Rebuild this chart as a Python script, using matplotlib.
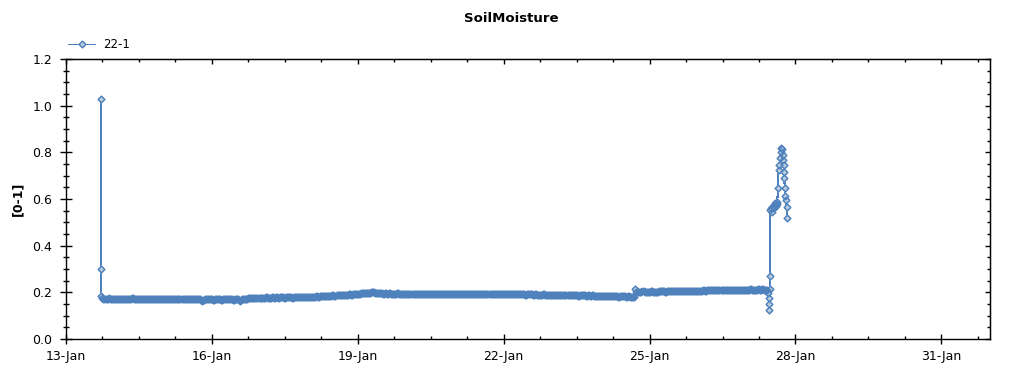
import matplotlib
matplotlib.use("Agg")
import matplotlib.pyplot as plt
import matplotlib.dates as mdates
from matplotlib.ticker import FixedLocator, MultipleLocator, FormatStrFormatter, NullFormatter
from matplotlib.legend_handler import HandlerTuple
import pandas as pd

plt.rcParams['font.family'] = ['DejaVu Sans']

# ---------------- data ----------------
series_name = "22-1"
title = "SoilMoisture"
y_label = "[0-1]"

# initial readings (Jan 13, 17:30)
start_times = ["2014-01-13 17:30", "2014-01-13 17:30", "2014-01-13 17:30"]
start_values = [1.030, 0.300, 0.186]

# half-hourly readings, Jan 13 18:00 -> Jan 27 10:00
jan13 = [0.174, 0.173, 0.173, 0.172, 0.172, 0.173, 0.174, 0.173, 0.172, 0.172, 0.173, 0.172]
jan14 = [0.173, 0.172, 0.172, 0.171, 0.171, 0.172, 0.172, 0.173, 0.173, 0.172, 0.172, 0.171,
         0.171, 0.172, 0.172, 0.173, 0.173, 0.174, 0.174, 0.172, 0.172, 0.171, 0.171, 0.172,
         0.172, 0.173, 0.173, 0.172, 0.172, 0.171, 0.171, 0.172, 0.172, 0.173, 0.173, 0.172,
         0.172, 0.171, 0.171, 0.172, 0.172, 0.173, 0.173, 0.172, 0.172, 0.171, 0.171, 0.172]
jan15 = [0.172, 0.171, 0.171, 0.172, 0.172, 0.173, 0.173, 0.172, 0.172, 0.171, 0.171, 0.170,
         0.170, 0.171, 0.171, 0.172, 0.172, 0.173, 0.173, 0.172, 0.172, 0.171, 0.171, 0.172,
         0.172, 0.171, 0.171, 0.170, 0.170, 0.171, 0.171, 0.172, 0.172, 0.171, 0.171, 0.170,
         0.170, 0.168, 0.164, 0.168, 0.169, 0.170, 0.170, 0.171, 0.171, 0.170, 0.170, 0.170]
jan16 = [0.170, 0.169, 0.169, 0.170, 0.170, 0.171, 0.171, 0.170, 0.170, 0.169, 0.169, 0.170,
         0.170, 0.171, 0.171, 0.172, 0.172, 0.171, 0.171, 0.170, 0.170, 0.169, 0.169, 0.170,
         0.170, 0.171, 0.171, 0.168, 0.164, 0.168, 0.170, 0.171, 0.172, 0.172, 0.173, 0.173,
         0.174, 0.174, 0.175, 0.175, 0.174, 0.174, 0.176, 0.176, 0.175, 0.175, 0.176, 0.176]
jan17 = [0.176, 0.177, 0.177, 0.175, 0.175, 0.178, 0.178, 0.176, 0.176, 0.177, 0.177, 0.179,
         0.179, 0.176, 0.176, 0.178, 0.178, 0.177, 0.177, 0.179, 0.179, 0.178, 0.178, 0.176,
         0.176, 0.179, 0.179, 0.178, 0.178, 0.180, 0.180, 0.177, 0.177, 0.179, 0.179, 0.178,
         0.178, 0.180, 0.180, 0.179, 0.179, 0.181, 0.181, 0.179, 0.179, 0.180, 0.180, 0.181]
jan18 = [0.181, 0.180, 0.180, 0.182, 0.182, 0.181, 0.181, 0.183, 0.183, 0.182, 0.182, 0.184,
         0.184, 0.183, 0.183, 0.185, 0.185, 0.184, 0.184, 0.186, 0.186, 0.185, 0.185, 0.187,
         0.187, 0.186, 0.186, 0.188, 0.188, 0.187, 0.187, 0.189, 0.189, 0.188, 0.188, 0.190,
         0.190, 0.189, 0.189, 0.191, 0.191, 0.190, 0.190, 0.192, 0.192, 0.193, 0.193, 0.194]
jan19 = [0.194, 0.195, 0.195, 0.196, 0.196, 0.197, 0.197, 0.198, 0.198, 0.199, 0.199, 0.198,
         0.198, 0.200, 0.200, 0.201, 0.201, 0.199, 0.199, 0.197, 0.197, 0.196, 0.196, 0.197,
         0.197, 0.195, 0.195, 0.196, 0.196, 0.195, 0.195, 0.196, 0.196, 0.195, 0.195, 0.194,
         0.194, 0.195, 0.195, 0.196, 0.196, 0.195, 0.195, 0.194, 0.194, 0.195, 0.195, 0.194]
jan20 = [0.194, 0.193, 0.193, 0.194, 0.194, 0.195, 0.195, 0.193, 0.193, 0.192, 0.192, 0.193,
         0.193, 0.194, 0.194, 0.193, 0.193, 0.192, 0.192, 0.193, 0.193, 0.194, 0.194, 0.193,
         0.193, 0.192, 0.192, 0.193, 0.193, 0.192, 0.192, 0.194, 0.194, 0.193, 0.193, 0.192,
         0.192, 0.193, 0.193, 0.192, 0.192, 0.193, 0.193, 0.194, 0.194, 0.193, 0.193, 0.192]
jan21 = [0.192, 0.193, 0.193, 0.192, 0.192, 0.191, 0.191, 0.192, 0.192, 0.193, 0.193, 0.192,
         0.192, 0.191, 0.191, 0.192, 0.192, 0.193, 0.193, 0.192, 0.192, 0.191, 0.191, 0.192,
         0.192, 0.193, 0.193, 0.192, 0.192, 0.193, 0.193, 0.192, 0.192, 0.191, 0.191, 0.192,
         0.192, 0.193, 0.193, 0.194, 0.194, 0.193, 0.193, 0.192, 0.192, 0.193, 0.193, 0.192]
jan22 = [0.193, 0.192, 0.192, 0.193, 0.193, 0.192, 0.192, 0.191, 0.191, 0.192, 0.192, 0.193,
         0.193, 0.192, 0.192, 0.191, 0.191, 0.192, 0.192, 0.191, 0.191, 0.190, 0.190, 0.191,
         0.191, 0.192, 0.192, 0.191, 0.191, 0.190, 0.190, 0.191, 0.191, 0.190, 0.190, 0.189,
         0.189, 0.190, 0.190, 0.191, 0.191, 0.190, 0.190, 0.189, 0.189, 0.190, 0.190, 0.189]
jan23 = [0.189, 0.188, 0.188, 0.189, 0.189, 0.188, 0.188, 0.187, 0.187, 0.188, 0.188, 0.189,
         0.189, 0.188, 0.188, 0.187, 0.187, 0.188, 0.188, 0.187, 0.187, 0.188, 0.188, 0.187,
         0.187, 0.186, 0.186, 0.187, 0.187, 0.188, 0.188, 0.187, 0.187, 0.186, 0.186, 0.187,
         0.187, 0.186, 0.186, 0.187, 0.187, 0.186, 0.186, 0.185, 0.185, 0.186, 0.186, 0.185]
jan24 = [0.185, 0.184, 0.184, 0.185, 0.185, 0.184, 0.184, 0.183, 0.183, 0.184, 0.184, 0.183,
         0.183, 0.184, 0.184, 0.183, 0.183, 0.182, 0.182, 0.183, 0.183, 0.184, 0.184, 0.183,
         0.183, 0.182, 0.182, 0.183, 0.183, 0.181, 0.181, 0.180, 0.180, 0.182, 0.216, 0.203,
         0.203, 0.202, 0.202, 0.203, 0.203, 0.204, 0.204, 0.203, 0.203, 0.202, 0.202, 0.203]
jan25 = [0.203, 0.204, 0.204, 0.203, 0.203, 0.202, 0.202, 0.203, 0.203, 0.204, 0.204, 0.205,
         0.205, 0.204, 0.204, 0.203, 0.203, 0.204, 0.204, 0.205, 0.205, 0.204, 0.204, 0.205,
         0.205, 0.206, 0.206, 0.205, 0.205, 0.204, 0.204, 0.205, 0.205, 0.206, 0.206, 0.205,
         0.205, 0.206, 0.206, 0.207, 0.207, 0.206, 0.206, 0.205, 0.205, 0.206, 0.206, 0.207]
jan26 = [0.207, 0.206, 0.206, 0.207, 0.207, 0.208, 0.208, 0.207, 0.207, 0.208, 0.208, 0.209,
         0.209, 0.208, 0.208, 0.209, 0.209, 0.210, 0.210, 0.209, 0.209, 0.208, 0.208, 0.209,
         0.209, 0.210, 0.210, 0.211, 0.211, 0.210, 0.210, 0.209, 0.209, 0.210, 0.210, 0.211,
         0.211, 0.210, 0.210, 0.211, 0.211, 0.212, 0.212, 0.211, 0.211, 0.210, 0.210, 0.211]
jan27 = [0.211, 0.212, 0.212, 0.213, 0.213, 0.212, 0.212, 0.211, 0.211, 0.212, 0.212, 0.213,
         0.213, 0.212, 0.212, 0.213, 0.213, 0.212, 0.212, 0.211, 0.211]

# final irregular readings on Jan 27
end_times = ["10:30", "10:45", "11:00", "11:10", "11:20", "11:30", "11:40", "12:00", "12:20",
             "12:40", "13:00", "13:20", "13:40", "14:00", "14:20", "14:40", "15:00", "15:20",
             "15:40", "16:00", "16:20", "16:40", "17:00", "17:20", "17:40", "18:00", "18:10",
             "18:20", "18:30", "18:40", "19:00", "19:20", "19:40", "20:00"]
end_values = [0.196, 0.174, 0.149, 0.123, 0.214, 0.270, 0.553, 0.560, 0.545,
              0.567, 0.572, 0.562, 0.578, 0.584, 0.570, 0.588, 0.580, 0.649,
              0.724, 0.746, 0.774, 0.800, 0.820, 0.815, 0.789, 0.767, 0.746,
              0.717, 0.691, 0.646, 0.613, 0.596, 0.567, 0.520]

# ---------------- assemble ----------------
band_values = (jan13 + jan14 + jan15 + jan16 + jan17 + jan18 + jan19 + jan20 +
               jan21 + jan22 + jan23 + jan24 + jan25 + jan26 + jan27)
band_times = pd.date_range("2014-01-13 18:00", periods=len(band_values), freq="30min")
times = (list(pd.to_datetime(start_times)) + list(band_times) +
         list(pd.to_datetime(["2014-01-27 " + t for t in end_times])))
values = start_values + band_values + end_values

# ---------------- plot ----------------
fig = plt.figure(figsize=(10.24, 3.75), dpi=100)
ax = fig.add_axes([66 / 1024, 36 / 375, 924 / 1024, 280 / 375])

edge = '#4F81BD'
face = '#B9CDDC'
# line + marker faces first, then all marker outlines on top (crisp, GDI-like)
h1, = ax.plot(times, values, color=edge, lw=0.75, marker='D', ms=3.4,
              mfc=face, mec=face, mew=1.0, antialiased=False)
h2, = ax.plot(times, values, ls='none', marker='D', ms=3.4,
              mfc='none', mec=edge, mew=1.0, antialiased=False)

x0 = mdates.date2num(pd.Timestamp("2014-01-13"))
x1 = mdates.date2num(pd.Timestamp("2014-02-01"))
ax.set_xlim(x0, x1)
ax.set_ylim(0, 1.2)

major_x = list(mdates.date2num(pd.date_range("2014-01-13", "2014-01-31", freq="3D")))
minor_all = mdates.date2num(pd.date_range("2014-01-13", "2014-02-01", freq="18h"))
minor_x = [m for m in minor_all if min(abs(m - M) for M in major_x) > 1e-6]
ax.xaxis.set_major_locator(FixedLocator(major_x))
ax.xaxis.set_minor_locator(FixedLocator(minor_x))
ax.xaxis.set_major_formatter(mdates.DateFormatter('%d-%b'))
ax.yaxis.set_major_locator(MultipleLocator(0.2))
ax.yaxis.set_minor_locator(MultipleLocator(0.05))
ax.yaxis.set_major_formatter(FormatStrFormatter('%.1f'))

ax.tick_params(axis='x', which='major', direction='inout', length=6.5, width=1,
               labelsize=9, pad=4.5, colors='black')
ax.tick_params(axis='x', which='minor', direction='in', length=2.3, width=1)
ax.tick_params(axis='y', which='major', direction='inout', length=8, width=1,
               labelsize=9, pad=6)
ax.tick_params(axis='y', which='minor', direction='inout', length=4.3, width=1)

# top / right ticks (inside only, no labels)
top = ax.secondary_xaxis('top')
top.xaxis.set_major_locator(FixedLocator(major_x))
top.xaxis.set_minor_locator(FixedLocator(minor_x))
top.xaxis.set_major_formatter(NullFormatter())
top.tick_params(which='major', direction='in', length=3.6, width=1)
top.tick_params(which='minor', direction='in', length=1.8, width=1)
right = ax.secondary_yaxis('right')
right.yaxis.set_major_locator(MultipleLocator(0.2))
right.yaxis.set_minor_locator(MultipleLocator(0.05))
right.yaxis.set_major_formatter(NullFormatter())
right.tick_params(which='major', direction='in', length=3.6, width=1)
right.tick_params(which='minor', direction='in', length=2.2, width=1)

for s in ax.spines.values():
    s.set_linewidth(1)
    s.set_color('black')

fig.text(511 / 1024, 1 - 19 / 375, title, ha='center', va='center',
         fontsize=9.5, fontweight='bold')
fig.text(18 / 1024, 1 - 199 / 375, y_label, ha='center', va='center',
         rotation=90, fontsize=9, fontweight='bold')

fig.legend([(h1, h2)], [series_name], handler_map={tuple: HandlerTuple(ndivide=1)},
           loc='center left', bbox_to_anchor=(68 / 1024, 1 - 45 / 375),
           frameon=False, fontsize=8.5, numpoints=1, handlelength=2.3,
           handletextpad=0.7, borderpad=0, borderaxespad=0)

fig.savefig("out.png", dpi=100)
